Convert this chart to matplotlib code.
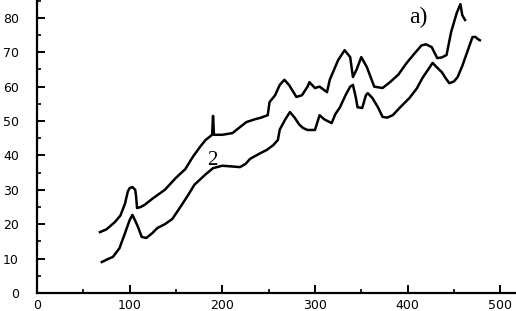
import matplotlib.pyplot as plt
from matplotlib.ticker import MultipleLocator

# Curve 1 (upper)
x1 = [68, 75, 84, 90, 95, 98, 100, 103, 106, 107, 108, 112, 116, 125, 138, 150, 160, 168,
      176, 182, 189, 190, 191, 200, 211, 218, 226, 235, 242, 249, 251, 257, 262, 267, 272,
      280, 286, 292, 294, 300, 305, 313, 316, 325, 332, 338, 341, 345, 350, 356, 364, 373,
      381, 390, 399, 407, 415, 420, 426, 432, 437, 442, 447, 453, 457, 459, 462]
y1 = [17.7, 18.5, 20.6, 22.5, 26, 29.5, 30.5, 30.8, 30, 28, 24.7, 25, 25.6, 27.5, 30, 33.5,
      36, 39.5, 42.5, 44.5, 46, 51.5, 46, 46, 46.5, 48, 49.7, 50.5, 51, 51.7, 55.5, 57.5,
      60.5, 62, 60.5, 57, 57.5, 60, 61.3, 59.6, 60, 58.4, 62, 67.7, 70.6, 68.6, 62.8, 65,
      68.6, 65.7, 60, 59.6, 61.3, 63.5, 66.9, 69.5, 72, 72.3, 71.5, 68.3, 68.5, 69.2, 75.9,
      81.4, 84, 80.8, 79.4]

# Curve 2 (lower)
x2 = [70, 76, 82, 89, 95, 100, 103, 106, 109, 113, 118, 124, 130, 138, 146, 154, 162, 170,
      176, 182, 190, 200, 210, 219, 225, 230, 240, 248, 255, 260, 262, 268, 273, 278, 283,
      287, 292, 300, 305, 310, 318, 322, 327, 333, 338, 341, 344, 346, 351, 355, 357, 362,
      368, 373, 378, 384, 392, 402, 410, 416, 421, 427, 432, 437, 441, 445, 450, 454, 459,
      464, 470, 473, 476, 478]
y2 = [9, 9.8, 10.5, 13, 17.4, 21.2, 22.7, 21, 19.2, 16.3, 16, 17.3, 18.9, 20, 21.5, 24.7,
      28, 31.5, 33, 34.5, 36.3, 37, 36.8, 36.6, 37.5, 39, 40.5, 41.6, 43, 44.5, 47.5, 50.5,
      52.6, 51, 49, 48, 47.4, 47.4, 51.7, 50.5, 49.4, 52, 54, 57.5, 60, 60.5, 57, 54, 53.8,
      57.5, 58.1, 56.7, 54, 51.2, 51, 51.7, 54, 56.7, 59.5, 62.5, 64.5, 66.9, 65.5, 64.2,
      62.5, 61, 61.5, 62.8, 66, 69.8, 74.4, 74.5, 73.8, 73.5]

x_ticks = [0, 100, 200, 300, 400, 500]
y_ticks = [0, 10, 20, 30, 40, 50, 60, 70, 80]


def main():
    fig = plt.figure(figsize=(5.16, 3.11), dpi=100)
    ax = fig.add_axes([0.0717, 0.058, 0.9283, 0.942])

    ax.plot(x1, y1, color='black', lw=1.8)
    ax.plot(x2, y2, color='black', lw=1.8)

    ax.set_xlim(0, 517)
    ax.set_ylim(0, 85.2)
    ax.set_xticks(x_ticks)
    ax.set_yticks(y_ticks)
    ax.xaxis.set_minor_locator(MultipleLocator(50))
    ax.yaxis.set_minor_locator(MultipleLocator(5))

    for side in ['top', 'right']:
        ax.spines[side].set_visible(False)
    for side in ['left', 'bottom']:
        ax.spines[side].set_linewidth(1.6)

    ax.tick_params(axis='both', which='major', direction='in', length=6, width=1.4,
                   labelsize=9, colors='black')
    ax.tick_params(axis='both', which='minor', direction='in', length=3, width=1.2)
    ax.tick_params(axis='y', which='major', pad=13)
    ax.tick_params(axis='x', which='major', pad=4)

    ax.text(189, 38.5, '2', family='Liberation Serif', fontsize=15, ha='center', va='center')
    ax.text(412, 80, 'a)', family='Liberation Serif', fontsize=17, ha='center', va='center')

    plt.savefig('out.png', dpi=100)


if __name__ == '__main__':
    main()
